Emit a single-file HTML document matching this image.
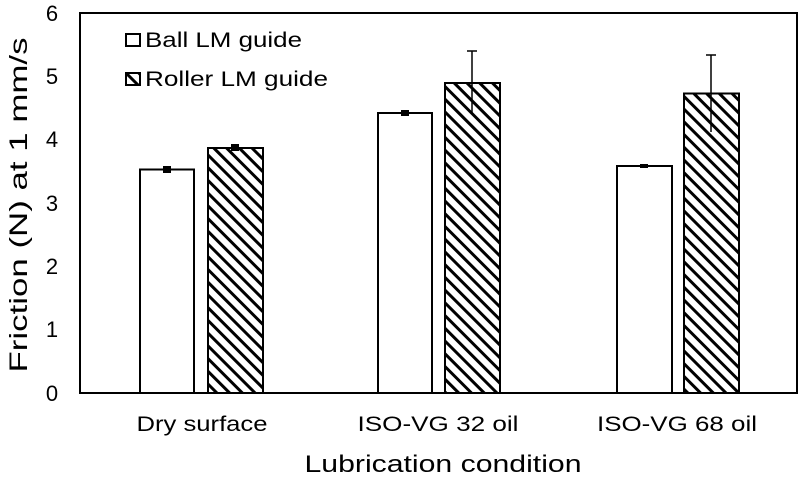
<!DOCTYPE html>
<html><head><style>body{margin:0;background:#fff}</style></head><body>
<svg width="800" height="477" xmlns="http://www.w3.org/2000/svg" font-family="Liberation Sans, Arial, sans-serif" fill="#000">
<defs>
<pattern id="h" patternUnits="userSpaceOnUse" width="9" height="9" patternTransform="rotate(-45)">
<rect width="9" height="9" fill="#fff"/><rect x="0" y="0" width="3" height="9" fill="#000"/>
</pattern>
</defs>
<rect x="80" y="13" width="717" height="380" fill="#fff" stroke="#000" stroke-width="2"/>
<g font-size="22" text-anchor="middle">
<text x="52" y="21" textLength="16">6</text><text x="52" y="84" textLength="16">5</text><text x="52" y="147" textLength="16">4</text>
<text x="52" y="211" textLength="16">3</text><text x="52" y="274" textLength="16">2</text><text x="52" y="337" textLength="16">1</text><text x="52" y="401" textLength="16">0</text>
</g>
<text transform="translate(27,205) rotate(-90)" font-size="25" text-anchor="middle" textLength="335" lengthAdjust="spacingAndGlyphs">Friction (N) at 1 mm/s</text>
<g stroke="#000" stroke-width="2">
<rect x="140" y="169.5" width="54" height="223.5" fill="#fff"/>
<rect x="208" y="148" width="55" height="245" fill="url(#h)"/>
<rect x="378" y="113" width="54" height="280" fill="#fff"/>
<rect x="445" y="83" width="55" height="310" fill="url(#h)"/>
<rect x="617" y="166" width="55" height="227" fill="#fff"/>
<rect x="684" y="93.5" width="55" height="299.5" fill="url(#h)"/>
</g>
<g stroke="#000" stroke-width="1.5">
<line x1="472" y1="51" x2="472" y2="114"/><line x1="467" y1="51" x2="477" y2="51"/>
<line x1="711" y1="55" x2="711" y2="132"/><line x1="706" y1="55" x2="716" y2="55"/>
</g>
<g fill="#000">
<rect x="163" y="166" width="8" height="7"/><rect x="231" y="144" width="8" height="7"/>
<rect x="401" y="110" width="8" height="6"/><rect x="640" y="164" width="8" height="4"/>
</g>
<rect x="126" y="34" width="14" height="12" fill="#fff" stroke="#000" stroke-width="2"/>
<text x="145" y="47" font-size="21" textLength="157" lengthAdjust="spacingAndGlyphs">Ball LM guide</text>
<rect x="126" y="73" width="14" height="12" fill="url(#h)" stroke="#000" stroke-width="2"/>
<text x="145" y="86" font-size="21" textLength="183" lengthAdjust="spacingAndGlyphs">Roller LM guide</text>
<g font-size="21" text-anchor="middle">
<text x="202" y="431" textLength="131" lengthAdjust="spacingAndGlyphs">Dry surface</text>
<text x="438" y="431" textLength="161" lengthAdjust="spacingAndGlyphs">ISO-VG 32 oil</text>
<text x="677" y="431" textLength="160" lengthAdjust="spacingAndGlyphs">ISO-VG 68 oil</text>
</g>
<text x="443" y="472" font-size="24" text-anchor="middle" textLength="277" lengthAdjust="spacingAndGlyphs">Lubrication condition</text>
</svg>
</body></html>
